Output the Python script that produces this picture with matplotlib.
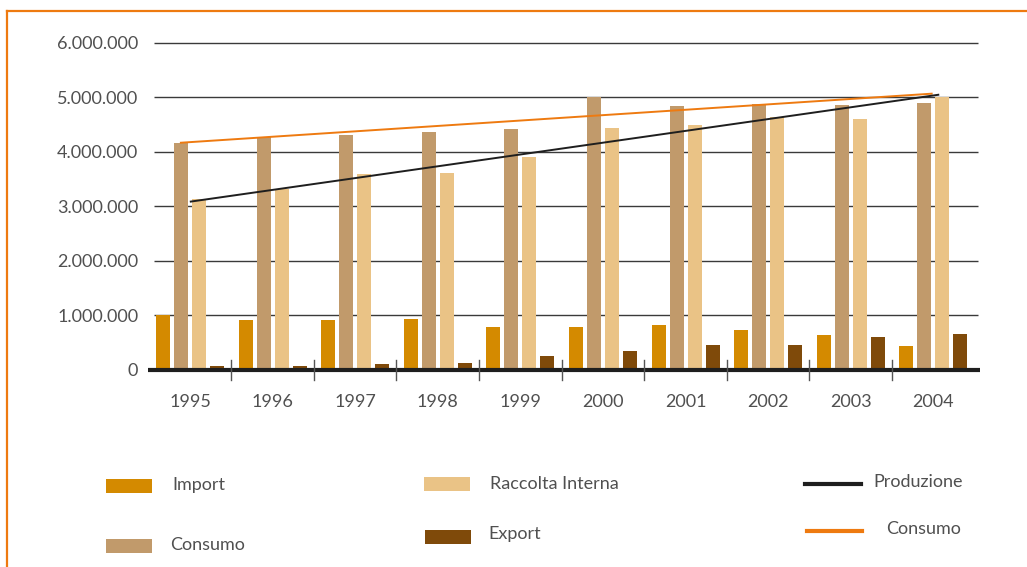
import matplotlib.pyplot as plt
import numpy as np
from matplotlib.lines import Line2D
from matplotlib.patches import Rectangle

years = ['1995', '1996', '1997', '1998', '1999', '2000', '2001', '2002', '2003', '2004']
import_t = [1010000, 920000, 920000, 940000, 790000, 790000, 830000, 730000, 640000, 440000]
consumo_t = [4170000, 4270000, 4320000, 4370000, 4420000, 5000000, 4840000, 4880000, 4860000, 4900000]
raccolta_t = [3130000, 3330000, 3590000, 3610000, 3910000, 4440000, 4490000, 4640000, 4600000, 5010000]
export_t = [80000, 80000, 110000, 130000, 260000, 350000, 460000, 460000, 610000, 660000]

# linear trends, first and last year
produzione_trend = [3090000, 5050000]
consumo_trend = [4170000, 5070000]

yticks = [0, 1000000, 2000000, 3000000, 4000000, 5000000, 6000000]
ylabels = ['0', '1.000.000', '2.000.000', '3.000.000', '4.000.000', '5.000.000', '6.000.000']

c_import = '#D48A00'
c_consumo = '#C19A6B'
c_raccolta = '#EAC386'
c_export = '#7F4A0A'
c_line_cons = '#EE7A10'
c_line_prod = '#1E1E1E'
txt = '#505050'

plt.rcParams['font.family'] = ['Lato', 'DejaVu Sans']

W, H = 1027, 567
fig = plt.figure(figsize=(W / 100, H / 100), dpi=100)

def px(x0, y0, x1, y1):
    # pixel box (top-left origin) -> figure fraction rect
    return [x0 / W, 1 - y1 / H, (x1 - x0) / W, (y1 - y0) / H]

ax = fig.add_axes(px(148, 40, 980, 375))
ax.set_xlim(-0.508, 9.565)
ax.set_ylim(-92000, 6055000)

for y in yticks[1:]:
    ax.hlines(y, -0.43, 9.54, color='#3A3A3A', linewidth=1.0, zorder=1)

x = np.arange(len(years))
w = 0.17
step = 0.218
ax.bar(x - 1.5 * step, import_t, w, color=c_import, zorder=2)
ax.bar(x - 0.5 * step, consumo_t, w, color=c_consumo, zorder=2)
ax.bar(x + 0.5 * step, raccolta_t, w, color=c_raccolta, zorder=2)
ax.bar(x + 1.5 * step, export_t, w, color=c_export, zorder=2)

ax.plot([-0.11, 8.98], consumo_trend, color=c_line_cons, linewidth=1.4, zorder=3)
ax.plot([0.01, 9.06], produzione_trend, color=c_line_prod, linewidth=1.4, zorder=3)

# baseline and group separators
ax.axhline(0, color='#1E1E1E', linewidth=3.0, zorder=4)
for b in x[:-1] + 0.5:
    ax.plot([b, b], [-185000, 185000], color='#555555', linewidth=1.0,
            clip_on=False, zorder=4)

for s in ax.spines.values():
    s.set_visible(False)
ax.set_xticks(x)
ax.set_xticklabels(years, fontsize=13, color=txt)
ax.set_yticks(yticks)
ax.set_yticklabels(ylabels, fontsize=13, color=txt)
ax.tick_params(axis='both', length=0)
ax.tick_params(axis='x', pad=14)
ax.tick_params(axis='y', pad=7)

# outer frame
fig.add_artist(Line2D([7 / W, 1], [1 - 11 / H, 1 - 11 / H], color=c_line_cons,
                      linewidth=1.6, transform=fig.transFigure))
fig.add_artist(Line2D([7 / W, 7 / W], [0, 1 - 11 / H], color=c_line_cons,
                      linewidth=1.6, transform=fig.transFigure))

# legend
patches = [
    (106, 479, c_import, 'Import', 172, 485),
    (106, 539, c_consumo, 'Consumo', 170, 545),
    (424, 477, c_raccolta, 'Raccolta Interna', 490, 484),
    (425, 530, c_export, 'Export', 488, 534),
]
for x0, y0, col, label, tx, ty in patches:
    fig.add_artist(Rectangle((x0 / W, 1 - (y0 + 14) / H), 46 / W, 14 / H,
                             facecolor=col, edgecolor='none', transform=fig.transFigure))
    fig.text(tx / W, 1 - ty / H, label, fontsize=13, color=txt, va='center', ha='left')

lines = [
    (805, 861, 484, c_line_prod, 'Produzione', 873, 482),
    (807, 862, 531, c_line_cons, 'Consumo', 886, 529),
]
for x0, x1, y0, col, label, tx, ty in lines:
    fig.add_artist(Line2D([x0 / W, x1 / W], [1 - y0 / H, 1 - y0 / H], color=col,
                          linewidth=3.0, transform=fig.transFigure))
    fig.text(tx / W, 1 - ty / H, label, fontsize=13, color=txt, va='center', ha='left')

fig.savefig('out.png', dpi=100)
